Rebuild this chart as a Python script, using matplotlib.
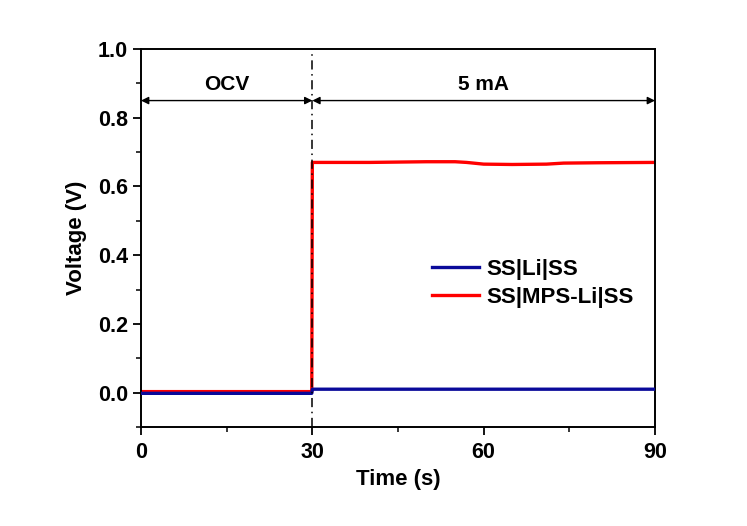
import matplotlib.pyplot as plt
from matplotlib.ticker import MultipleLocator

plt.rcParams['font.family'] = ['Liberation Sans', 'DejaVu Sans']
plt.rcParams['font.weight'] = 'bold'

time_li = [0, 29.9, 30.0, 90]
volt_li = [-0.002, -0.002, 0.01, 0.01]

time_mps = [0, 29.9, 30.0, 40, 50, 55, 57, 60, 65, 71, 74, 80, 90]
volt_mps = [0.003, 0.003, 0.67, 0.670, 0.672, 0.672, 0.670, 0.665, 0.664, 0.665, 0.668, 0.669, 0.670]

x_ticks = [0, 30, 60, 90]
y_ticks = [0.0, 0.2, 0.4, 0.6, 0.8, 1.0]

fig = plt.figure(figsize=(7.47, 5.26), dpi=100)
ax = fig.add_axes([0.1888, 0.1882, 0.688, 0.7186])

ax.plot(time_li, volt_li, color='#0a0a9a', lw=2.4, label='SS|Li|SS', zorder=3)
ax.plot(time_mps, volt_mps, color='#ff0000', lw=2.4, label='SS|MPS-Li|SS', zorder=2)

ax.axvline(30, color='black', lw=1.1, ls=(0, (6, 3, 1, 3)), zorder=4)

# OCV / current arrows
arr = dict(arrowstyle='<|-|>', mutation_scale=11, lw=1, color='black',
           shrinkA=0, shrinkB=0)
ax.annotate('', xy=(0, 0.85), xytext=(30, 0.85), arrowprops=arr)
ax.annotate('', xy=(30, 0.85), xytext=(90, 0.85), arrowprops=arr)
ax.text(15, 0.897, 'OCV', ha='center', va='center', fontsize=15, fontweight='bold')
ax.text(60, 0.897, '5 mA', ha='center', va='center', fontsize=15, fontweight='bold')

ax.set_xlim(0, 90)
ax.set_ylim(-0.1, 1.0)
ax.set_xticks(x_ticks)
ax.set_yticks(y_ticks)
ax.xaxis.set_minor_locator(MultipleLocator(15))
ax.yaxis.set_minor_locator(MultipleLocator(0.1))
ax.tick_params(which='major', direction='out', length=6, width=1.3, labelsize=15.5)
ax.tick_params(axis='x', which='major', pad=5)
ax.tick_params(which='minor', direction='out', length=3.5, width=1.1)
for s in ax.spines.values():
    s.set_linewidth(1.4)

ax.set_xlabel('Time (s)', fontsize=16, fontweight='bold', labelpad=4)
ax.set_ylabel('Voltage (V)', fontsize=16, fontweight='bold', labelpad=8)

ax.legend(loc='upper left', bbox_to_anchor=(0.527, 0.497), frameon=False,
          fontsize=16, handlelength=2.1, handletextpad=0.35, labelspacing=0.3)

fig.savefig('out.png', dpi=100)
